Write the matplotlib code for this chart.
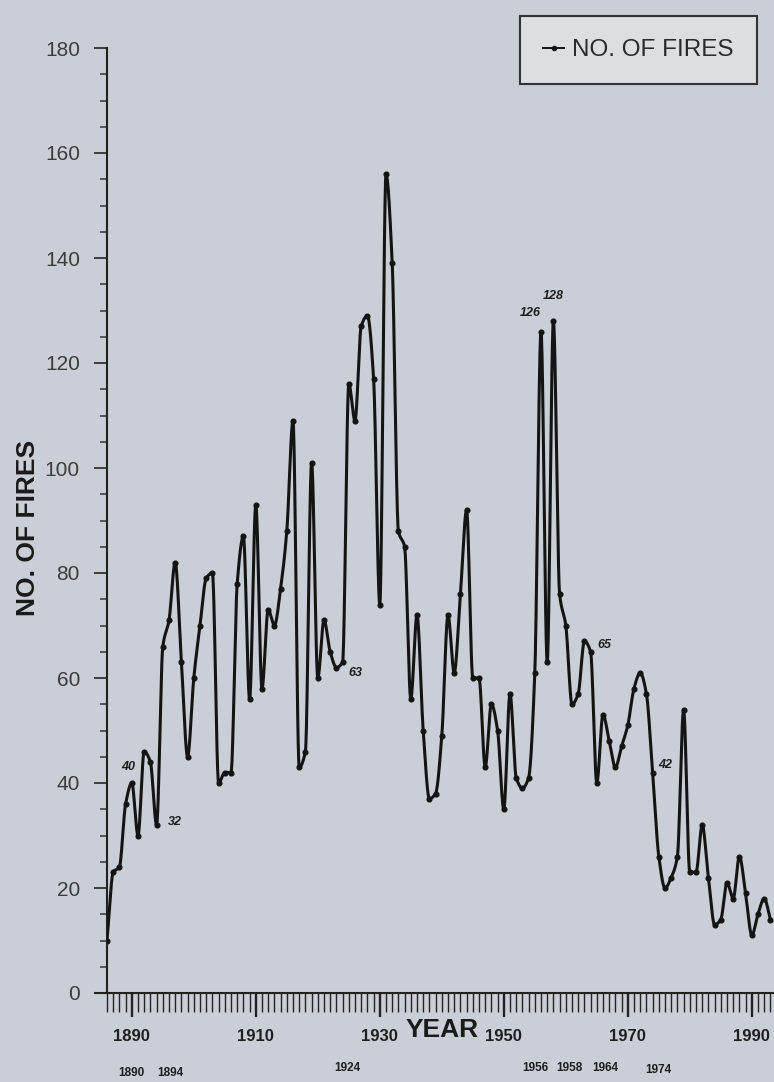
import numpy as np
import matplotlib
matplotlib.use("Agg")
import matplotlib.pyplot as plt
from matplotlib.ticker import MultipleLocator
from matplotlib.lines import Line2D

plt.rcParams['font.family'] = ['Liberation Sans', 'DejaVu Sans']

# ---------------- data ----------------
start_year = 1886
fires = [
    10, 23, 24, 36,                                   # 1886-1889
    40, 30, 46, 44, 32, 66, 71, 82, 63, 45,           # 1890s
    60, 70, 79, 80, 40, 42, 42, 78, 87, 56,           # 1900s
    93, 58, 73, 70, 77, 88, 109, 43, 46, 101,         # 1910s
    60, 71, 65, 62, 63, 116, 109, 127, 129, 117,      # 1920s
    74, 156, 139, 88, 85, 56, 72, 50, 37, 38,         # 1930s
    49, 72, 61, 76, 92, 60, 60, 43, 55, 50,           # 1940s
    35, 57, 41, 39, 41, 61, 126, 63, 128, 76,         # 1950s
    70, 55, 57, 67, 65, 40, 53, 48, 43, 47,           # 1960s
    51, 58, 61, 57, 42, 26, 20, 22, 26, 54,           # 1970s
    23, 23, 32, 22, 13, 14, 21, 18, 26, 19,           # 1980s
    11, 15, 18, 14,                                   # 1990-1993
]
years = np.arange(start_year, start_year + len(fires))

x_tick_years = [1890, 1910, 1930, 1950, 1970, 1990]
y_tick_values = list(range(0, 181, 20))
legend_label = "NO. OF FIRES"
y_title = "NO. OF FIRES"
x_title = "YEAR"

# annotated values: (year, text, dx px, dy px)
annot_years = [1890, 1894, 1924, 1956, 1958, 1964, 1974]
annot_texts = ["40", "32", "63", "126", "128", "65", "42"]
annot_offsets = [(-4, 16), (18, 3), (13, -11), (-11, 18), (0, 25), (14, 7), (13, 7)]

# secondary year row under the axis
row_labels = ["1890", "1894", "1924", "1956", "1958", "1964", "1974"]
row_x_px = [131, 170, 347, 535, 569, 605, 658]
row_y_px = [1073, 1073, 1068, 1068, 1068, 1068, 1070]

# ---------------- smooth curve (monotone cubic through the data) ----------------
def pchip_curve(x, y, n=24):
    x = np.asarray(x, float); y = np.asarray(y, float)
    h = np.diff(x)
    delta = np.diff(y) / h
    d = np.zeros_like(y)
    for k in range(1, len(x) - 1):
        if delta[k - 1] * delta[k] > 0:
            w1 = 2 * h[k] + h[k - 1]
            w2 = h[k] + 2 * h[k - 1]
            d[k] = (w1 + w2) / (w1 / delta[k - 1] + w2 / delta[k])
    d[0] = delta[0]
    d[-1] = delta[-1]
    t = np.linspace(0, 1, n, endpoint=False)
    h00 = 2 * t**3 - 3 * t**2 + 1
    h10 = t**3 - 2 * t**2 + t
    h01 = -2 * t**3 + 3 * t**2
    h11 = t**3 - t**2
    xs, ys = [], []
    for i in range(len(x) - 1):
        xs.append(x[i] + t * h[i])
        ys.append(h00 * y[i] + h10 * h[i] * d[i] + h01 * y[i + 1] + h11 * h[i] * d[i + 1])
    xs.append([x[-1]]); ys.append([y[-1]])
    return np.concatenate(xs), np.concatenate(ys)

cx, cy = pchip_curve(years, fires)

# ---------------- figure ----------------
W, H = 774, 1082
bg = '#cacfd7'
ink = '#141414'
fig = plt.figure(figsize=(W / 100, H / 100), dpi=100, facecolor=bg)
ax_left, ax_right, ax_top, ax_bottom = 107, 774, 48, 993
ax = fig.add_axes([ax_left / W, (H - ax_bottom) / H,
                   (ax_right - ax_left) / W, (ax_bottom - ax_top) / H])
ax.set_facecolor(bg)

ax.set_xlim(start_year, start_year + (ax_right - ax_left) / 6.2)
ax.set_ylim(0, 180)

ax.plot(cx, cy, color=ink, lw=2.2, solid_joinstyle='round', zorder=3)
ax.plot(years, fires, 'o', ms=3.4, color=ink, zorder=4)

for sp in ['top', 'right']:
    ax.spines[sp].set_visible(False)
for sp in ['left', 'bottom']:
    ax.spines[sp].set_linewidth(1.5)
    ax.spines[sp].set_color('#222222')
# small stub of the x axis left of the y axis
ax.plot([-12 / (ax_right - ax_left), 0], [0, 0], transform=ax.transAxes,
        color='#222222', lw=1.5, clip_on=False)

# x ticks
ax.set_xticks(x_tick_years, labels=[str(v) for v in x_tick_years],
              fontweight='bold', fontsize=12, color='#1e1e1e')
ax.xaxis.set_minor_locator(MultipleLocator(1))
ax.tick_params(axis='x', which='major', direction='out', length=17, width=1.7,
               pad=9, color='#222222')
ax.tick_params(axis='x', which='minor', direction='out', length=13.5, width=1.0,
               color='#222222')

# y ticks
ax.set_yticks(y_tick_values, labels=[str(v) for v in y_tick_values],
              fontsize=15, color='#3c3c3c')
ax.yaxis.set_minor_locator(MultipleLocator(5))
ax.tick_params(axis='y', which='major', direction='out', length=9.5, width=1.3,
               pad=10, color='#333333')
ax.tick_params(axis='y', which='minor', direction='out', length=5, width=1.1,
               color='#333333')

# titles
fig.text(28 / W, 1 - 528 / H, y_title, rotation=90, ha='center', va='center',
         fontsize=19, fontweight='bold', color='#1a1a1a')
fig.text(442 / W, 1 - 1030 / H, x_title, ha='center', va='center',
         fontsize=19, fontweight='bold', color='#1a1a1a')

# value annotations
lookup = dict(zip(years.tolist(), fires))
for yr, txt, (dx, dy) in zip(annot_years, annot_texts, annot_offsets):
    ax.annotate(txt, xy=(yr, lookup[yr]), xytext=(dx, dy),
                textcoords='offset pixels', ha='center', va='center',
                fontsize=9, fontweight='bold', fontstyle='italic', color='#1e1e1e')

# secondary row of years
for lab, xp, yp in zip(row_labels, row_x_px, row_y_px):
    fig.text(xp / W, 1 - yp / H, lab, ha='center', va='center',
             fontsize=8.5, fontweight='bold', color='#1e1e1e')

# legend
handle = Line2D([], [], color=ink, lw=1.4, marker='o', ms=3)
leg = fig.legend([handle], [legend_label], loc='upper right',
                 bbox_to_anchor=(757 / W, 1 - 16 / H), frameon=True,
                 fancybox=False, edgecolor='#333333', facecolor='#dcdee1',
                 framealpha=1, fontsize=17.5, borderpad=0.95,
                 handlelength=0.85, handletextpad=0.35, borderaxespad=0)
leg.get_frame().set_linewidth(1.5)
for t in leg.get_texts():
    t.set_color('#2a2a2a')

fig.savefig('out.png', dpi=100, facecolor=bg)
